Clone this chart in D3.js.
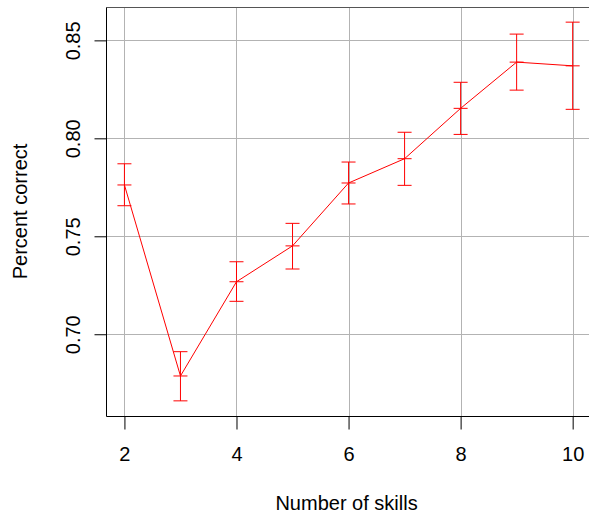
<!DOCTYPE html>
<html>
<head>
<meta charset="utf-8">
<script src="https://cdn.jsdelivr.net/npm/d3@7/dist/d3.min.js"></script>
<style>
  body { margin: 0; background: #fff; }
  text { font-family: "Liberation Sans", Arial, sans-serif; fill: #000; }
</style>
</head>
<body>
<div id="chart"></div>
<script>
// data
var skills = [2, 3, 4, 5, 6, 7, 8, 9, 10];
var meanCorrect = [0.7762, 0.6787, 0.7268, 0.7451, 0.7772, 0.7896, 0.8153, 0.8389, 0.8370];
var upperCorrect = [0.7870, 0.6911, 0.7370, 0.7566, 0.7879, 0.8031, 0.8286, 0.8532, 0.8593];
var lowerCorrect = [0.7656, 0.6660, 0.7168, 0.7333, 0.7665, 0.7760, 0.8020, 0.8246, 0.8148];
var xTicks = [2, 4, 6, 8, 10];
var yTicks = [0.70, 0.75, 0.80, 0.85];

var W = 589, H = 514;
var plotL = 106.5, plotT = 7, plotR = 590.6, plotB = 416;
var capW = 7;

var rows = skills.map(function(s, i){
  return {x: s, m: meanCorrect[i], hi: upperCorrect[i], lo: lowerCorrect[i]};
});

// R style 4% padding
var xr = d3.extent(skills), xpad = (xr[1] - xr[0]) * 0.04;
var ylo = d3.min(lowerCorrect), yhi = d3.max(upperCorrect), ypad = (yhi - ylo) * 0.04;

var x = d3.scaleLinear().domain([xr[0] - xpad, xr[1] + xpad]).range([plotL, plotR]);
var y = d3.scaleLinear().domain([ylo - ypad, yhi + ypad]).range([plotB, plotT]);

var svg = d3.select('#chart').append('svg')
  .attr('width', W).attr('height', H);

// grid
var grid = svg.append('g').attr('stroke', '#b3b3b3').attr('stroke-width', 1);
grid.selectAll('.vg').data(xTicks).enter().append('line')
  .attr('x1', function(d){ return Math.round(x(d)) + 0.5; })
  .attr('x2', function(d){ return Math.round(x(d)) + 0.5; })
  .attr('y1', plotT).attr('y2', plotB);
grid.selectAll('.hg').data(yTicks).enter().append('line')
  .attr('y1', function(d){ return Math.round(y(d)) + 0.5; })
  .attr('y2', function(d){ return Math.round(y(d)) + 0.5; })
  .attr('x1', plotL).attr('x2', W);

// axes
var xAxis = d3.axisBottom(x).tickValues(xTicks).tickSize(13).tickPadding(17)
  .tickFormat(d3.format('d'));
var gx = svg.append('g').attr('transform', 'translate(0,' + (plotB + 0.5) + ')').call(xAxis);
gx.select('.domain').remove();
gx.selectAll('text').attr('font-size', 20).attr('dy', '0.71em');

var yAxis = d3.axisLeft(y).tickValues(yTicks).tickSize(12).tickFormat(d3.format('.2f'));
var gy = svg.append('g').attr('transform', 'translate(' + plotL + ',0)').call(yAxis);
gy.select('.domain').remove();
gy.selectAll('text')
  .attr('font-size', 20)
  .attr('x', null).attr('dy', null)
  .attr('text-anchor', 'middle')
  .attr('transform', 'translate(-27,0) rotate(-90)');

// box
svg.append('path')
  .attr('d', 'M' + W + ',' + (plotT + 0.5) + 'H' + plotL + 'V' + (plotB + 0.5) + 'H' + W)
  .attr('fill', 'none').attr('stroke', '#000').attr('stroke-width', 1);
svg.append('line').attr('x1', plotL).attr('x2', W)
  .attr('y1', plotT + 0.5).attr('y2', plotT + 0.5).attr('stroke', '#555');

// error bars
var eb = svg.append('g').attr('stroke', '#ff0000').attr('stroke-width', 1).attr('fill', 'none');
eb.selectAll('.v').data(rows).enter().append('line')
  .attr('x1', function(d){ return x(d.x); }).attr('x2', function(d){ return x(d.x); })
  .attr('y1', function(d){ return y(d.hi); }).attr('y2', function(d){ return y(d.lo); });
['hi', 'm', 'lo'].forEach(function(k){
  eb.selectAll('.c' + k).data(rows).enter().append('line')
    .attr('x1', function(d){ return x(d.x) - capW; })
    .attr('x2', function(d){ return x(d.x) + capW; })
    .attr('y1', function(d){ return y(d[k]); })
    .attr('y2', function(d){ return y(d[k]); });
});

// mean line
svg.append('path').datum(rows)
  .attr('d', d3.line().x(function(d){ return x(d.x); }).y(function(d){ return y(d.m); }))
  .attr('fill', 'none').attr('stroke', '#ff0000').attr('stroke-width', 1);

// titles
svg.append('text').attr('x', (plotL + plotR) / 2 - 2).attr('y', 510)
  .attr('text-anchor', 'middle').attr('font-size', 20).text('Number of skills');
svg.append('text')
  .attr('transform', 'translate(27,' + ((plotT + plotB) / 2) + ') rotate(-90)')
  .attr('text-anchor', 'middle').attr('font-size', 20).text('Percent correct');
</script>
</body>
</html>
